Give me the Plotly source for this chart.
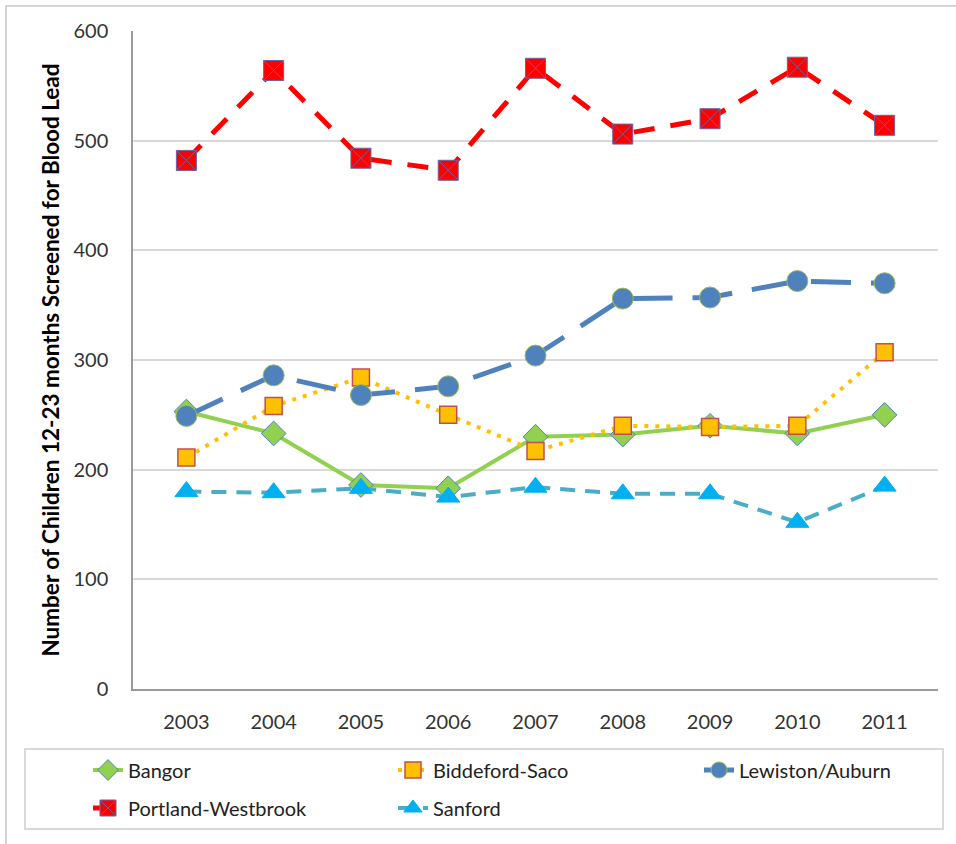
import plotly.graph_objects as go

years = ["2003", "2004", "2005", "2006", "2007", "2008", "2009", "2010", "2011"]
bangor = [253, 233, 186, 183, 230, 232, 240, 233, 250]
biddeford = [211, 258, 284, 250, 217, 240, 239, 240, 307]
lewiston = [249, 286, 268, 276, 304, 356, 357, 372, 370]
portland = [482, 564, 484, 473, 566, 506, 520, 567, 514]
sanford = [180, 179, 183, 175, 184, 178, 178, 152, 185]
y_ticks = [0, 100, 200, 300, 400, 500, 600]

fig = go.Figure()
fig.add_trace(go.Scatter(
    x=years, y=bangor, name="Bangor", mode="lines+markers", legend="legend",
    line=dict(color="#92d050", width=4),
    marker=dict(symbol="diamond", size=19, color="#92d050", line=dict(color="#4f81bd", width=1))))
fig.add_trace(go.Scatter(
    x=years, y=biddeford, name="Biddeford-Saco", mode="lines+markers", legend="legend2",
    line=dict(color="#ffc000", width=4, dash="4px,7px"),
    marker=dict(symbol="square", size=17, color="#ffc000", line=dict(color="#c0504d", width=1.5))))
fig.add_trace(go.Scatter(
    x=years, y=lewiston, name="Lewiston/Auburn", mode="lines+markers", legend="legend3",
    line=dict(color="#4f81bd", width=5, dash="40px,20px"),
    marker=dict(symbol="circle", size=21, color="#4f81bd", line=dict(color="#9bbb59", width=1))))
fig.add_trace(go.Scatter(
    x=years, y=portland, name="Portland-Westbrook", mode="lines+markers", legend="legend4",
    line=dict(color="#ff0000", width=5, dash="21px,16px"),
    marker=dict(symbol="square-x", size=20, color="#ff0000", line=dict(color="#7060a0", width=1))))
fig.add_trace(go.Scatter(
    x=years, y=sanford, name="Sanford", mode="lines+markers", legend="legend5",
    line=dict(color="#4bacc6", width=4, dash="15px,10px"),
    marker=dict(symbol="triangle-up", size=20, color="#00b0f0", line=dict(color="#00b0f0", width=1))))

font_family = "Lato, 'Open Sans', sans-serif"
PW, PH, L, T = 805, 658, 133, 31


def px_x(x):
    return (x - L) / PW


def px_y(y):
    return (T + PH - y) / PH


legend_common = dict(
    orientation="h", xanchor="left", yanchor="middle",
    borderwidth=0, bgcolor="rgba(0,0,0,0)",
    font=dict(family=font_family, size=20, color="#222222"),
)

fig.update_layout(
    width=956, height=844,
    margin=dict(l=L, r=956 - L - PW, t=T, b=844 - T - PH),
    paper_bgcolor="white", plot_bgcolor="white",
    font=dict(family=font_family, size=20, color="#000000"),
    showlegend=True,
    legend=dict(x=px_x(88), y=px_y(770), **legend_common),
    legend2=dict(x=px_x(393), y=px_y(770), **legend_common),
    legend3=dict(x=px_x(699), y=px_y(770), **legend_common),
    legend4=dict(x=px_x(88), y=px_y(808), **legend_common),
    legend5=dict(x=px_x(393), y=px_y(808), **legend_common),
    xaxis=dict(
        type="category", showgrid=False, showline=True, linecolor="#9a9a9a", linewidth=1.5,
        ticks="", tickfont=dict(size=20, color="#333333"), ticklabelstandoff=14,
    ),
    yaxis=dict(
        range=[0, 600], tickvals=y_ticks, showgrid=True, gridcolor="#d9d9d9", gridwidth=1.5,
        showline=True, linecolor="#9a9a9a", linewidth=1.5, zeroline=False,
        ticks="", tickfont=dict(size=20, color="#333333"), ticklabelstandoff=19,
        title=dict(text="<b>Number of Children 12-23 months Screened for Blood Lead</b>",
                   font=dict(size=22.5, color="#000000"), standoff=8),
    ),
)

# legend box
fig.add_shape(type="rect", xref="paper", yref="paper",
              x0=px_x(25), x1=px_x(943), y0=px_y(829), y1=px_y(749),
              line=dict(color="#d9d9d9", width=2), fillcolor="rgba(0,0,0,0)", layer="below")
# outer frame
fig.add_shape(type="rect", xref="paper", yref="paper",
              x0=px_x(6), x1=px_x(962), y0=px_y(852), y1=px_y(6),
              line=dict(color="#c8c8c8", width=1.5), fillcolor="rgba(0,0,0,0)", layer="below")

fig.write_html("out.html", config={"displayModeBar": False},
               post_script="document.body.style.margin='0px';")
